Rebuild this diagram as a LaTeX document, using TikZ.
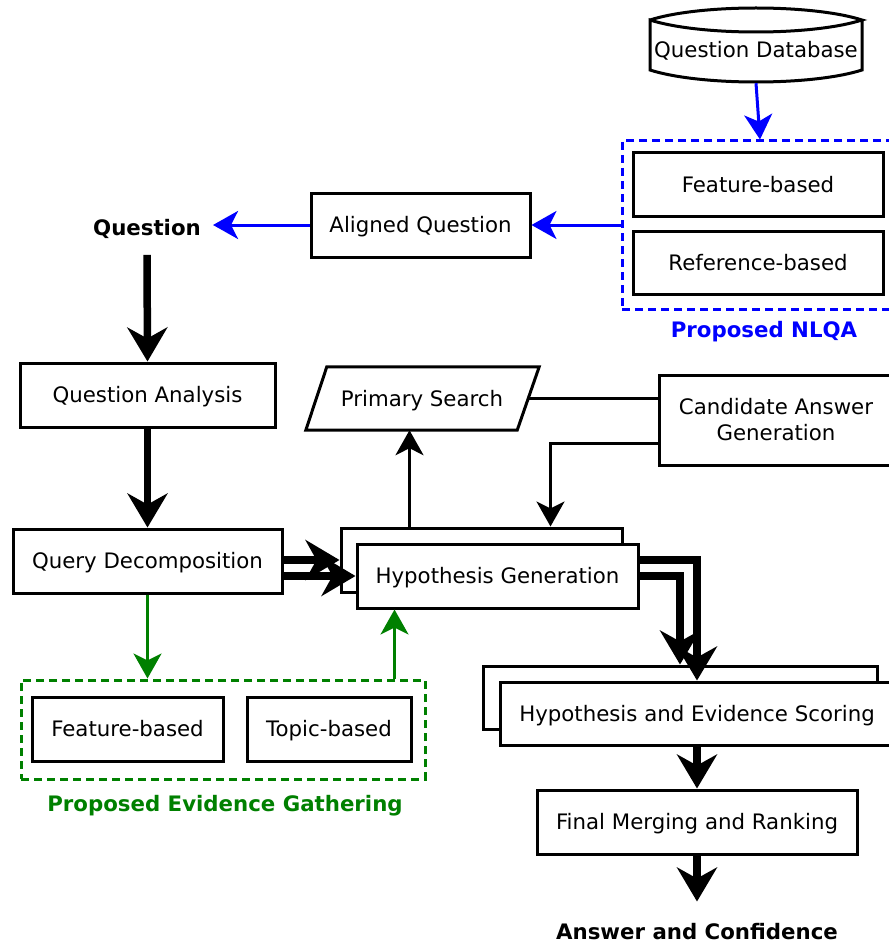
\documentclass[tikz,border=0pt]{standalone}
\usepackage{fontspec}
\setmainfont{DejaVu Sans}
\usetikzlibrary{arrows.meta,calc}
\definecolor{nlqablue}{RGB}{0,0,255}
\definecolor{evgreen}{RGB}{0,128,0}

\begin{document}
\begin{tikzpicture}[x=1pt,y=-1pt,
  every node/.style={font=\fontsize{21.3}{26}\selectfont},
  box/.style={draw, line width=3pt, fill=white, inner sep=0pt, text height=20pt, text depth=4.6pt},
  heavy/.style={line width=7.5pt, -{Stealth[length=34pt,width=40pt,inset=11pt]}},
  light/.style={line width=3pt, -{Stealth[length=25pt,width=28pt,inset=7pt]}},
  plainline/.style={line width=3pt},
  grouplabel/.style={font=\fontsize{21.3}{26}\selectfont\bfseries},
  groupframe/.style={draw, line width=3pt, dash pattern=on 8pt off 5pt, inner sep=0pt},
]
\useasboundingbox (0,0) rectangle (888,944);

% ---- question database (cylinder) ----
\draw[line width=3pt, fill=white]
  (650,20) .. controls (700,4) and (812,4) .. (862,20)
           .. controls (812,36) and (700,36) .. (650,20)
  -- (650,70) .. controls (700,86) and (812,86) .. (862,70) -- (862,20);
\node[inner sep=0pt, minimum width=212pt, minimum height=66pt, text height=20pt, text depth=4.6pt] (db) at (756,50) {Question Database};

% ---- NLQA group ----
\node[groupframe, draw=nlqablue, minimum width=273pt, minimum height=168pt] (nlqa) at (758.5,225) {};
\node[box, minimum width=250pt, minimum height=63pt] (fbn) at (758,184.5) {Feature-based};
\node[box, minimum width=250pt, minimum height=63pt] (rbn) at (758,262.5) {Reference-based};
\node[grouplabel, text=nlqablue] (nlqalabel) at (764,332) {Proposed NLQA};

\node[box, minimum width=219pt, minimum height=64pt] (aq) at (420.5,225) {Aligned Question};
\node[inner sep=0pt, font=\fontsize{21.3}{26}\selectfont\bfseries] (q) at (147,229) {Question};

% ---- main pipeline ----
\node[box, minimum width=255pt, minimum height=64pt] (qa) at (147.5,395) {Question Analysis};
\node[box, minimum width=269pt, minimum height=64pt] (qd) at (147.5,561) {Query Decomposition};

\node[inner sep=0pt, minimum width=233pt, minimum height=63pt] (ps) at (422.5,398.5) {};
\draw[line width=3pt, fill=white]
  ($(ps.north west)+(21,0)$) -- (ps.north east) -- ($(ps.south east)+(-22,0)$) -- (ps.south west) -- cycle;
\node[inner sep=0pt, text height=20pt, text depth=4.6pt] (pstext) at (422,398.5) {Primary Search};

\node[draw, line width=3pt, fill=white, inner sep=0pt, minimum width=234pt, minimum height=90pt, align=center] (cag) at (776,420)
  {Candidate Answer\\Generation};

\node[box, minimum width=281pt, minimum height=64pt] (hgb) at (481.5,560) {};
\node[box, minimum width=281pt, minimum height=64pt] (hgf) at (497.5,576) {Hypothesis Generation};

\node[box, minimum width=394pt, minimum height=63pt] (scb) at (680,697.5) {};
\node[box, minimum width=394pt, minimum height=63pt] (scf) at (697,713.5) {Hypothesis and Evidence Scoring};

\node[box, minimum width=320pt, minimum height=64pt] (fm) at (697,822) {Final Merging and Ranking};
\node[grouplabel] (ans) at (697,932) {Answer and Confidence};

% ---- evidence gathering group ----
\node[groupframe, draw=evgreen, minimum width=404pt, minimum height=99pt] (ge) at (223,729.5) {};
\node[box, minimum width=191pt, minimum height=64pt] (fbe) at (127.5,729) {Feature-based};
\node[box, minimum width=164pt, minimum height=64pt] (tbe) at (329,729) {Topic-based};
\node[grouplabel, text=evgreen] (gelabel) at (225,806) {Proposed Evidence Gathering};

% ---- connectors ----
\draw[light, draw=nlqablue, fill=nlqablue] (db.south) -- ($(nlqa.north)+(1.5,0)$);
\draw[light, draw=nlqablue, fill=nlqablue] (nlqa.west) -- (aq.east);
\draw[light, draw=nlqablue, fill=nlqablue] (aq.west) -- ($(q.east)+(12,-4)$);

\draw[heavy] ($(q.south)+(0,16)$) -- (qa.north);
\draw[heavy] (qa.south) -- (qd.north);

\draw[heavy] (qd.east |- hgb.east) -- (hgb.east -| hgb.west);
\draw[heavy] (qd.east |- hgf.east) -- (hgf.west);

\coordinate (psup) at ($(hgb.north west)+(70,0)$);
\draw[light] (psup) -- (psup |- ps.south);
\draw[plainline] ($(ps.east)+(-11,0)$) -- (cag.west |- ps.east);
\draw[light] ($(cag.west)+(0,23)$) -| ($(hgb.north west)+(211,0)$);

\draw[heavy] (hgf.east) -| (scb.north);
\draw[heavy] (hgf.east |- hgb.east) -| (scf.north);

\draw[heavy] (scf.south) -- (fm.north);
\draw[heavy] (fm.south) -- ++(0,46);

\draw[light, draw=evgreen, fill=evgreen] (qd.south) -- (qd.south |- ge.north);
\coordinate (geup) at ($(hgf.south west)+(39,0)$);
\draw[light, draw=evgreen, fill=evgreen] (geup |- ge.north) -- (geup);

\end{tikzpicture}
\end{document}
